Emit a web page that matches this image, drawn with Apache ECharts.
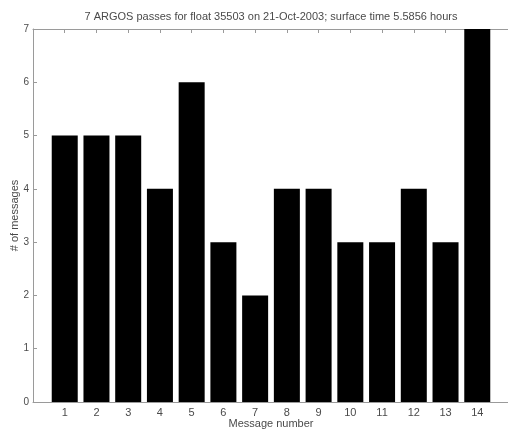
<!DOCTYPE html>
<html>
<head>
<meta charset="utf-8">
<script src="https://cdn.jsdelivr.net/npm/echarts@6/dist/echarts.min.js"></script>
<style>
html,body{margin:0;padding:0;background:#fff;}
#chart{width:508px;height:432px;}
</style>
</head>
<body>
<div id="chart"></div>
<script>
// Message counts per ARGOS message number
const messageNumbers = [1, 2, 3, 4, 5, 6, 7, 8, 9, 10, 11, 12, 13, 14];
const messageCounts = [5, 5, 5, 4, 6, 3, 2, 4, 4, 3, 3, 4, 3, 7];
const yTicks = [0, 1, 2, 3, 4, 5, 6, 7];

const titleText = '7 ARGOS passes for float 35503 on 21-Oct-2003; surface time 5.5856 hours';

const axisColor = '#9a9a9a';
const textColor = '#4a4a4a';
const font = 'Liberation Sans, Arial, sans-serif';

const chart = echarts.init(document.getElementById('chart'), null, {renderer: 'canvas'});

const xBase = {
  type: 'value', min: 0, max: 15, interval: 1,
  axisLine: {show: true, lineStyle: {color: axisColor, width: 1}},
  axisTick: {show: true, inside: true, length: 4, lineStyle: {color: axisColor}},
  splitLine: {show: false}
};

chart.setOption({
  animation: false,
  backgroundColor: '#fff',
  title: {
    text: titleText, left: 266, top: 6, textAlign: 'center',
    textStyle: {fontFamily: font, fontSize: 11, fontWeight: 'normal', color: textColor}
  },
  grid: {left: 33, top: 29, width: 476, bottom: 30, containLabel: false, outerBoundsMode: 'none'},
  xAxis: [
    Object.assign({}, xBase, {
      position: 'bottom',
      name: 'Message number', nameLocation: 'middle', nameGap: 16, nameMoveOverlap: false,
      nameTextStyle: {fontFamily: font, fontSize: 11, color: textColor},
      axisLabel: {
        color: textColor, fontFamily: font, fontSize: 11, margin: 5,
        formatter: v => messageNumbers.includes(v) ? String(v) : ''
      }
    }),
    Object.assign({}, xBase, {position: 'top', axisLabel: {show: false}})
  ],
  yAxis: [
    {
      type: 'value', min: yTicks[0], max: yTicks[yTicks.length - 1], interval: 1,
      name: '# of messages', nameLocation: 'middle', nameGap: 13, nameRotate: 90, nameMoveOverlap: false,
      nameTextStyle: {fontFamily: font, fontSize: 11, color: textColor},
      axisLine: {show: true, lineStyle: {color: axisColor}},
      axisTick: {show: true, inside: true, length: 4, lineStyle: {color: axisColor}},
      axisLabel: {color: textColor, fontFamily: font, fontSize: 10, margin: 4},
      splitLine: {show: false}
    }
  ],
  series: [{
    type: 'bar',
    xAxisIndex: 0,
    data: messageNumbers.map((n, i) => [n, messageCounts[i]]),
    barWidth: 26,
    itemStyle: {color: '#000'}
  }]
});
</script>
</body>
</html>
